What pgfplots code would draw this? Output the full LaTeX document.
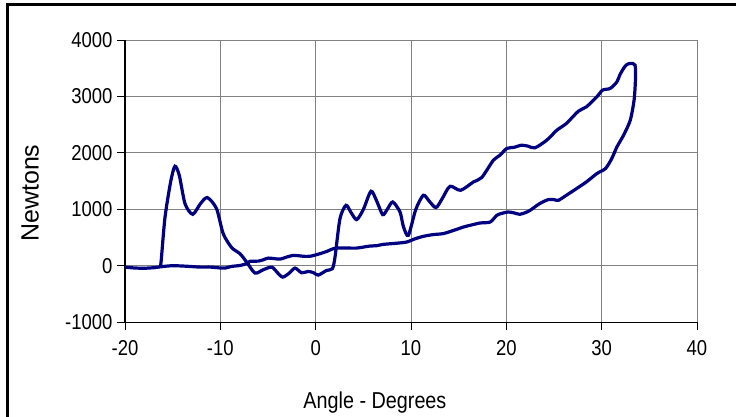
\documentclass[border=0pt]{standalone}
\usepackage{pgfplots}
\pgfplotsset{compat=1.18}
\usepackage{fontspec}
\setmainfont{Liberation Sans}
\newfontfamily\narrowfont[FakeStretch=0.86]{Liberation Sans}
\definecolor{navyline}{RGB}{0,0,128}
\definecolor{gridgray}{RGB}{128,128,128}
\begin{document}
\begin{tikzpicture}[x=1pt,y=1pt]
\useasboundingbox (0,0) rectangle (736,417);
\draw[line width=3pt] (7.5,0) -- (7.5,412) -- (740,412);
\begin{axis}[
  at={(125pt,94.5pt)}, anchor=south west,
  scale only axis, width=572pt, height=282.5pt,
  xmin=-20, xmax=40, ymin=-1000, ymax=4000,
  xtick={-20,-10,...,40}, ytick={-1000,0,...,4000},
  grid=major,
  major grid style={gridgray, line width=1pt},
  axis line style={black, line width=1.2pt},
  tick align=outside, major tick length=8pt,
  tick style={black, line width=1pt},
  axis x line*=bottom, axis y line*=left,
  /pgf/number format/assume math mode=true,
  /pgf/number format/1000 sep={},
  ticklabel style={font=\narrowfont\fontsize{21.5}{24}\selectfont},
  yticklabel style={anchor=east, xshift=-1pt},
  xticklabel style={anchor=north, yshift=-6pt},
  xlabel={Angle - Degrees},
  xlabel style={at={(axis description cs:0.437,-0.285)}, anchor=center, font=\narrowfont\fontsize{23}{26}\selectfont},
  ylabel={Newtons},
  ylabel style={at={(axis description cs:-0.166,0.458)}, anchor=center, rotate=0, font=\fontsize{25}{28}\selectfont},
  clip=false,
]
\addplot[navyline, line width=3.2pt, smooth, tension=0.45] coordinates {
(-20,-20) (-19,-35) (-18,-40) (-17,-30) (-16.3,-15)
(-15.5,0) (-14.9,5) (-14,0) (-13,-10) (-12.1,-20) (-11,-20) (-10,-35) (-9.5,-37)
(-8.8,-7) (-7.9,10) (-7.3,40) (-6.9,82) (-6.0,87) (-5.5,110) (-4.97,140) (-4.3,130)
(-3.74,122) (-3,160) (-2.35,188) (-1.7,180) (-1.12,170) (-0.5,175) (0.45,218)
(1.2,260) (1.85,307) (2.5,320) (3.25,318) (4.3,317) (5.0,335) (5.7,353) (6.4,360)
(7.1,383) (8.3,400) (9.55,424) (10.4,480) (11.29,525) (12.3,555) (13.39,573)
(14.1,610) (14.8,649) (15.5,690) (16.2,720) (17.24,761) (18.3,778) (19.0,897)
(19.5,930) (20.2,956) (20.8,940) (21.4,915) (22.0,945) (22.5,986) (23.5,1105)
(24.4,1175) (25.0,1175) (25.46,1163) (26.3,1252) (27.2,1352) (28.4,1488)
(29.5,1636) (30.4,1725) (31.06,1902) (31.6,2108) (32.3,2316) (33.0,2581)
(33.4,2936) (33.54,3290) (33.5,3556)
(33.0,3586) (32.6,3560) (32.3,3498) (31.9,3380) (31.6,3260) (30.9,3143)
(30.1,3113) (29.5,2995) (28.4,2817) (27.56,2741) (26.3,2523) (25.3,2404)
(24.24,2227) (23.0,2091) (22.3,2120) (21.6,2138) (20.8,2100) (20.04,2080)
(19.34,1961) (18.64,1872) (17.42,1566) (16.55,1488) (15.2,1340) (14.09,1411)
(13.3,1200) (12.62,1034) (11.9,1150) (11.29,1252) (10.5,1000) (9.72,543)
(9.2,700) (8.85,956) (8.08,1133) (7.5,1000) (7.03,909) (6.4,1150) (5.8,1323)
(5.0,1000) (4.3,821) (3.7,950) (3.18,1074) (2.55,838) (2.03,158) (1.75,-48)
(1.15,-78) (0.27,-161) (-0.2,-120) (-0.77,-96) (-1.47,-120) (-2.17,-37)
(-2.8,-130) (-3.46,-197) (-4.0,-120) (-4.6,-20) (-5.5,-66) (-6.37,-125)
(-7.24,70) (-7.94,218) (-8.8,324) (-9.7,573) (-10.4,1016) (-11.37,1211)
(-12.1,1100) (-12.9,915) (-13.7,1100) (-14.3,1600) (-14.76,1766) (-15.2,1500)
(-15.8,867) (-16.2,100) (-16.3,-15)
};
\end{axis}
\end{tikzpicture}
\end{document}
